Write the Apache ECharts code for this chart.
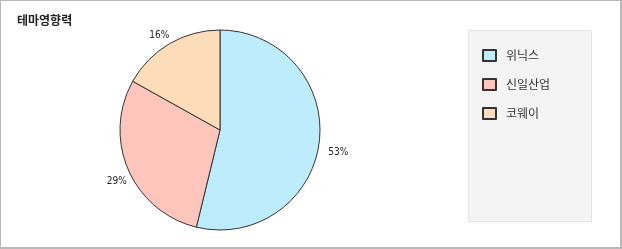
<!DOCTYPE html>
<html><head><meta charset="utf-8">
<script src="https://cdn.jsdelivr.net/npm/echarts@6/dist/echarts.min.js"></script>
<style>
html,body{margin:0;padding:0;background:#fff;}
#c{width:622px;height:249px;box-sizing:border-box;border:1px solid #b9b9b9;border-right:2px solid #b9b9b9;border-bottom:2px solid #b9b9b9;}
</style></head>
<body><div id="c"></div>
<script>
const categories = ['위닉스', '신일산업', '코웨이'];
const values = [53.8, 29.3, 16.9];
const valueLabels = ['53%', '29%', '16%'];
const colors = ['#bdecfc', '#fdc5bb', '#fddcb9'];

const CX = 219, CY = 129;
const chart = echarts.init(document.getElementById('c'), null, {renderer: 'canvas'});
chart.setOption({
  animation: false,
  title: {
    text: '테마영향력', left: 11, top: 8,
    textStyle: {fontFamily: 'Noto Sans CJK KR', fontSize: 12, fontWeight: 'bold', color: '#222'}
  },
  graphic: [{
    type: 'rect', left: 467, top: 29, z: 0,
    shape: {width: 123, height: 191},
    style: {fill: '#f4f4f4', stroke: '#e4e4e4', lineWidth: 1}
  }],
  legend: {
    orient: 'vertical', left: 476, top: 43,
    itemWidth: 13, itemHeight: 11, itemGap: 16, icon: 'rect',
    textStyle: {fontFamily: 'Noto Sans CJK KR', fontSize: 12, color: '#333', padding: [0, 0, 0, 5]},
    data: categories
  },
  series: [{
    type: 'pie',
    center: [CX, CY], radius: 100,
    startAngle: 90, clockwise: true,
    color: colors,
    itemStyle: {borderColor: '#333', borderWidth: 1},
    label: {
      position: 'outside',
      fontFamily: 'DejaVu Sans Condensed', fontSize: 10, color: '#222',
      formatter: p => valueLabels[p.dataIndex]
    },
    labelLine: {show: false, length: 4, length2: 0},
    labelLayout: p => {
      const r = p.labelRect;
      const mx = r.x + r.width / 2, my = r.y + r.height / 2;
      return {dx: mx < CX ? 7 : 0, dy: my > CY ? 10 : -5};
    },
    data: categories.map((n, i) => ({name: n, value: values[i]}))
  }]
});
</script></body></html>
